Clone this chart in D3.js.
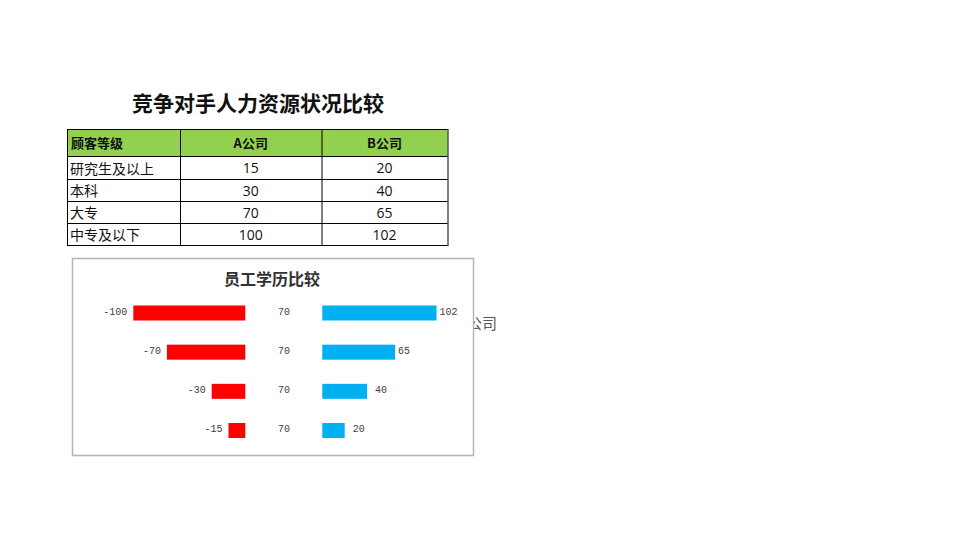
<!DOCTYPE html>
<html>
<head>
<meta charset="utf-8">
<script src="https://cdn.jsdelivr.net/npm/d3@7"></script>
<style>
  body { margin: 0; background: #fff; }
  svg { display: block; }
</style>
</head>
<body>
<div id="sheet"></div>
<script>
// table / chart data
var levels = ["研究生及以上", "本科", "大专", "中专及以下"];
var companyA = [15, 30, 70, 100];
var companyB = [20, 40, 65, 102];
var midValues = [70, 70, 70, 70];
var headers = ["顾客等级", "A公司", "B公司"];

var svgWidth = 960;
var svgHeight = 540;

var svg = d3.select("#sheet")
    .append("svg")
    .attr("width", svgWidth)
    .attr("height", svgHeight);

// main title
svg.append("text")
    .attr("x", 258)
    .attr("y", 102)
    .attr("text-anchor", "middle")
    .attr("dominant-baseline", "central")
    .style("font-family", "'Noto Sans CJK SC'")
    .style("font-weight", 700)
    .style("font-size", "21px")
    .style("fill", "#111")
    .text("竞争对手人力资源状况比较");

// table
var colX = [67, 180, 321.5, 447.5];
var rowY = [129, 156, 179, 201, 223, 245];

var table = svg.append("g");

table.append("rect")
    .attr("x", colX[0])
    .attr("y", rowY[0])
    .attr("width", colX[3] - colX[0])
    .attr("height", rowY[1] - rowY[0])
    .attr("fill", "#92D050");

headers.forEach(function(h, i) {
    table.append("text")
        .attr("x", i === 0 ? colX[0] + 4 : (colX[i] + colX[i + 1]) / 2)
        .attr("y", (rowY[0] + rowY[1]) / 2)
        .attr("text-anchor", i === 0 ? "start" : "middle")
        .attr("dominant-baseline", "central")
        .style("font-family", "'Noto Sans CJK SC'")
        .style("font-weight", 700)
        .style("font-size", "13px")
        .style("fill", "#111")
        .text(h);
});

levels.forEach(function(lv, i) {
    var cy = (rowY[i + 1] + rowY[i + 2]) / 2;
    table.append("text")
        .attr("x", colX[0] + 3)
        .attr("y", cy)
        .attr("dominant-baseline", "central")
        .style("font-family", "'Noto Sans CJK SC'")
        .style("font-size", "14px")
        .style("fill", "#111")
        .text(lv);
    [companyA[i], companyB[i]].forEach(function(v, j) {
        table.append("text")
            .attr("x", (colX[j + 1] + colX[j + 2]) / 2)
            .attr("y", cy)
            .attr("text-anchor", "middle")
            .attr("dominant-baseline", "central")
            .style("font-family", "'Open Sans'")
            .style("font-size", "14px")
            .style("fill", "#111")
            .text(v);
    });
});

// grid lines
rowY.forEach(function(y) {
    table.append("line")
        .attr("x1", colX[0]).attr("x2", colX[3])
        .attr("y1", y + 0.5).attr("y2", y + 0.5)
        .attr("stroke", "#000");
});
colX.forEach(function(x) {
    table.append("line")
        .attr("x1", x + 0.5).attr("x2", x + 0.5)
        .attr("y1", rowY[0]).attr("y2", rowY[5] + 1)
        .attr("stroke", "#000");
});

// legend text of a chart behind, partly covered
svg.append("text")
    .attr("x", 497)
    .attr("y", 322)
    .attr("text-anchor", "end")
    .attr("dominant-baseline", "central")
    .style("font-family", "'Noto Sans CJK SC'")
    .style("font-size", "15px")
    .style("fill", "#555")
    .text("B公司");

// chart box
svg.append("rect")
    .attr("x", 72.5)
    .attr("y", 258.5)
    .attr("width", 401)
    .attr("height", 197)
    .attr("fill", "#fff")
    .attr("stroke", "#b5b5b5")
    .attr("stroke-width", 1.5);

svg.append("text")
    .attr("x", 272)
    .attr("y", 278)
    .attr("text-anchor", "middle")
    .attr("dominant-baseline", "central")
    .style("font-family", "'Noto Sans CJK SC'")
    .style("font-weight", 700)
    .style("font-size", "16px")
    .style("fill", "#333")
    .text("员工学历比较");

// chart: bars top to bottom in reverse order of the table
var chartData = levels.map(function(lv, i) {
    return { level: lv, a: companyA[i], b: companyB[i], mid: midValues[i] };
}).reverse();

var yScale = d3.scalePoint()
    .domain(chartData.map(d => d.level))
    .range([313, 430.5]);

var xScale = d3.scaleLinear()
    .domain([0, 100])
    .range([0, 112]);

var leftBase = 245.3;
var rightBase = 322.3;
var barH = 15;
var labelFont = "'Liberation Mono', monospace";

var chartGroup = svg.append("g");

chartGroup.selectAll(".barA")
    .data(chartData)
    .enter()
    .append("rect")
    .attr("x", d => leftBase - xScale(d.a))
    .attr("y", d => yScale(d.level) - barH / 2)
    .attr("width", d => xScale(d.a))
    .attr("height", barH)
    .attr("fill", "#FF0000");

chartGroup.selectAll(".barB")
    .data(chartData)
    .enter()
    .append("rect")
    .attr("x", rightBase)
    .attr("y", d => yScale(d.level) - barH / 2)
    .attr("width", d => xScale(d.b))
    .attr("height", barH)
    .attr("fill", "#00B0F0");

chartGroup.selectAll(".labA")
    .data(chartData)
    .enter()
    .append("text")
    .attr("x", d => leftBase - xScale(d.a) - 6)
    .attr("y", d => yScale(d.level) - 1)
    .attr("text-anchor", "end")
    .attr("dominant-baseline", "central")
    .style("font-family", labelFont)
    .style("font-size", "10px")
    .style("fill", "#404040")
    .text(d => "-" + d.a);

chartGroup.selectAll(".labMid")
    .data(chartData)
    .enter()
    .append("text")
    .attr("x", 284)
    .attr("y", d => yScale(d.level) - 1)
    .attr("text-anchor", "middle")
    .attr("dominant-baseline", "central")
    .style("font-family", labelFont)
    .style("font-size", "10px")
    .style("fill", "#404040")
    .text(d => d.mid);

chartGroup.selectAll(".labB")
    .data(chartData)
    .enter()
    .append("text")
    .attr("x", d => rightBase + xScale(d.b) + (d.b >= 60 ? 3 : 8))
    .attr("y", d => yScale(d.level) - 1)
    .attr("text-anchor", "start")
    .attr("dominant-baseline", "central")
    .style("font-family", labelFont)
    .style("font-size", "10px")
    .style("fill", "#404040")
    .text(d => d.b);
</script>
</body>
</html>
